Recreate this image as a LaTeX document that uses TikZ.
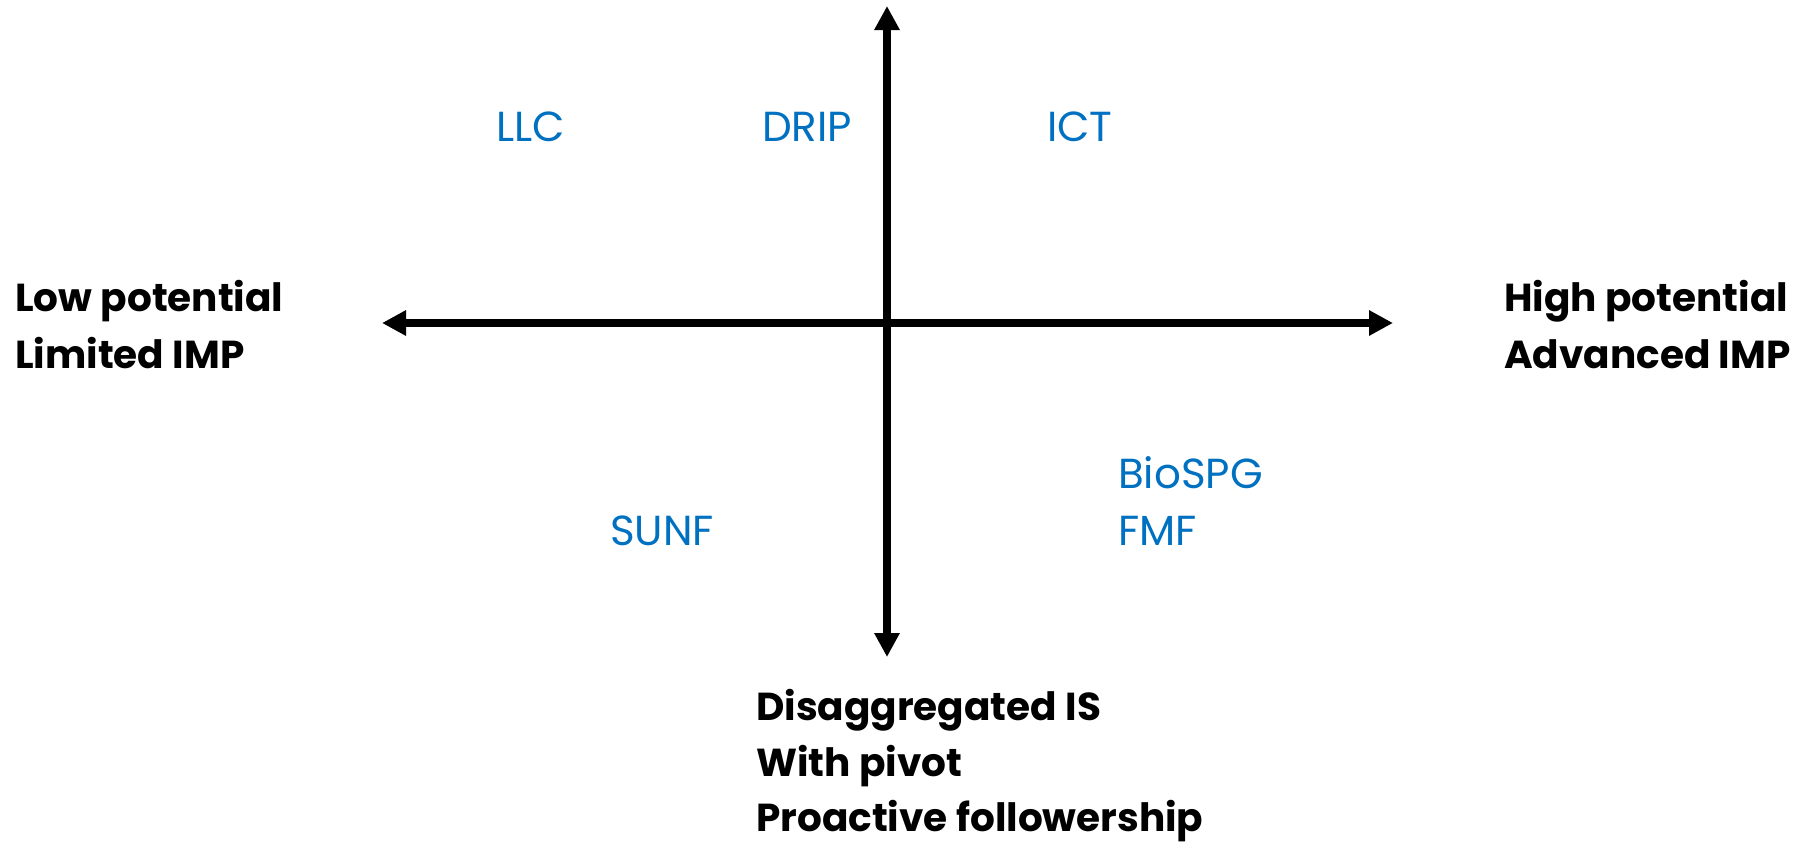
\documentclass[tikz,border=0pt]{standalone}
\usepackage{fontspec}
\setmainfont{Poppins}
\usetikzlibrary{arrows.meta}
\definecolor{itemblue}{RGB}{0,112,192}
\tikzset{
  axis/.style={line width=8pt, {Triangle[length=24pt,width=24pt]}-{Triangle[length=24pt,width=24pt]}},
  pole/.style={anchor=base west, inner sep=0pt, font=\fontsize{39}{48}\selectfont\bfseries, text=black},
  item/.style={anchor=base west, inner sep=0pt, font=\fontsize{42}{50}\selectfont, text=itemblue}
}
\begin{document}
\begin{tikzpicture}[x=1pt,y=-1pt]
\useasboundingbox (0,0) rectangle (1804,844);
% axis end points
\coordinate (W) at (382,323);
\coordinate (E) at (1393,323);
\coordinate (N) at (887,6);
\coordinate (S) at (887,657);
\draw[axis] (W) -- (E);
\draw[axis] (N) -- (S);
% pole labels
\node[pole] (lo1) at (15,311) {Low potential};
\node[pole] (lo2) at (15,368) {Limited IMP};
\node[pole] (hi1) at (1504,311) {High potential};
\node[pole] (hi2) at (1504,368) {Advanced IMP};
\node[pole] (dn1) at (756,720) {Disaggregated IS};
\node[pole] (dn2) at (756,776) {With pivot};
\node[pole] (dn3) at (756,831) {Proactive followership};
% items in the quadrants
\node[item] (llc) at (496,141) {LLC};
\node[item] (drip) at (762,141) {DRIP};
\node[item] (ict) at (1047,141) {ICT};
\node[item] (sunf) at (610,545) {SUNF};
\node[item] (biospg) at (1118,488) {BioSPG};
\node[item] (fmf) at (1118,545) {FMF};
\end{tikzpicture}
\end{document}
